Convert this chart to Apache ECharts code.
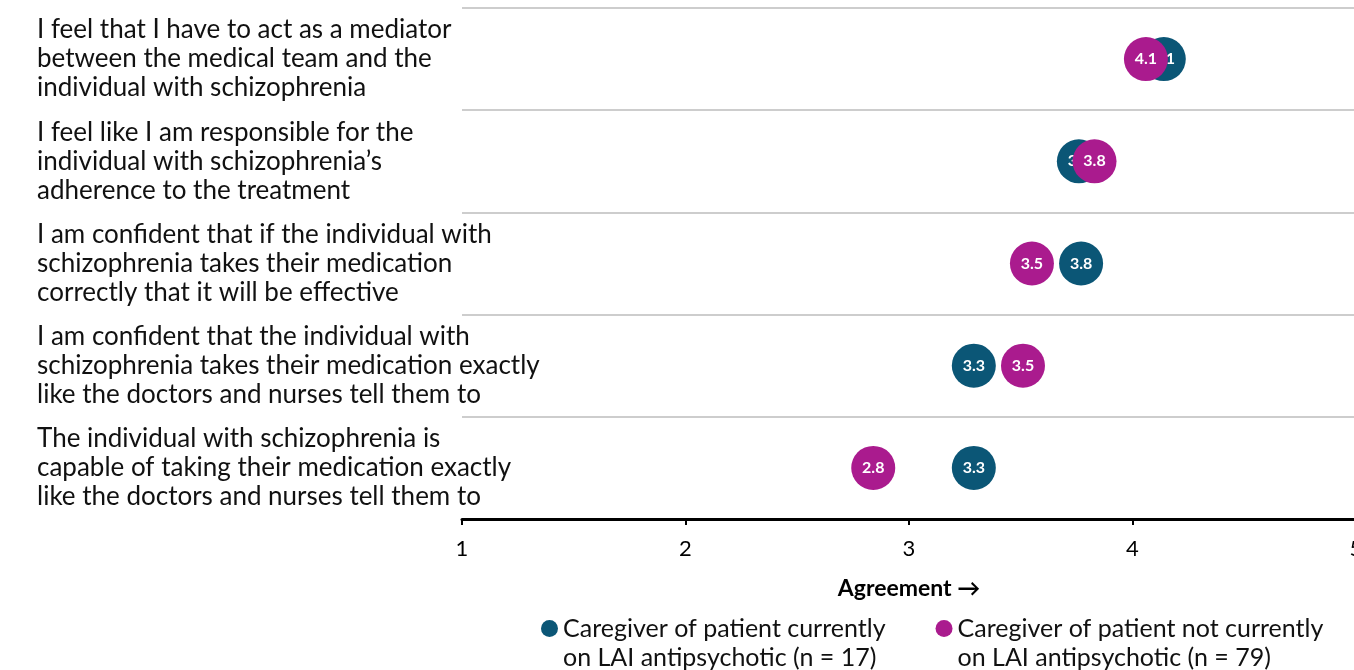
<!DOCTYPE html>
<html>
<head>
<meta charset="utf-8">
<script src="https://cdn.jsdelivr.net/npm/echarts@6/dist/echarts.min.js"></script>
<style>html,body{margin:0;padding:0;background:#fff;overflow:hidden;}#c{width:1354px;height:670px;}</style>
</head>
<body>
<div id="c"></div>
<script>
const categories = [
  "I feel that I have to act as a mediator\nbetween the medical team and the\nindividual with schizophrenia",
  "I feel like I am responsible for the\nindividual with schizophrenia\u2019s\nadherence to the treatment",
  "I am confident that if the individual with\nschizophrenia takes their medication\ncorrectly that it will be effective",
  "I am confident that the individual with\nschizophrenia takes their medication exactly\nlike the doctors and nurses tell them to",
  "The individual with schizophrenia is\ncapable of taking their medication exactly\nlike the doctors and nurses tell them to"
];
const currentLAI = [4.14, 3.76, 3.77, 3.29, 3.29];
const notCurrentLAI = [4.06, 3.83, 3.55, 3.51, 2.84];
const seriesNames = [
  "Caregiver of patient currently\non LAI antipsychotic (n = 17)",
  "Caregiver of patient not currently\non LAI antipsychotic (n = 79)"
];
const xTicks = [1, 2, 3, 4, 5];
const colors = ["#0b5676", "#aa1b8e"];

const FONT = "Lato, sans-serif";
function mk(i, vals) {
  return {
    name: seriesNames[i],
    type: 'scatter',
    z: 2 + i * 2,
    symbol: 'circle',
    symbolSize: 44,
    itemStyle: { color: colors[i], opacity: 1 },
    label: {
      show: true, position: 'inside', color: '#fff', fontWeight: 'bold',
      fontSize: 16, fontFamily: FONT,
      formatter: p => p.value[0].toFixed(1)
    },
    labelLayout: { hideOverlap: false },
    emphasis: { disabled: true },
    data: vals.map((v, k) => [v, categories[k]])
  };
}
const chart = echarts.init(document.getElementById('c'), null, { renderer: 'canvas' });
chart.setOption({
  animation: false,
  textStyle: { fontFamily: FONT },
  grid: { left: 462, right: -2, top: 8, bottom: 151, containLabel: false, outerBoundsMode: 'none' },
  xAxis: {
    type: 'value', min: xTicks[0], max: xTicks[xTicks.length - 1], interval: 1,
    axisLine: { show: true, lineStyle: { color: '#000', width: 3 } },
    axisTick: { show: true, length: 6, lineStyle: { color: '#000', width: 2 } },
    axisLabel: { color: '#000', fontSize: 22, margin: 19, fontFamily: FONT },
    splitLine: { show: false },
    name: 'Agreement \u2192', nameLocation: 'middle', nameGap: 58,
    nameTextStyle: { color: '#000', fontWeight: 'bold', fontSize: 23, fontFamily: FONT }
  },
  yAxis: {
    type: 'category', data: categories, inverse: true, boundaryGap: true,
    axisLine: { show: false }, axisTick: { show: false },
    splitLine: { show: true, lineStyle: { color: '#bdbdbd', width: 1.5 } },
    axisLabel: { align: 'left', margin: 425, color: '#111', fontSize: 26, lineHeight: 29, fontFamily: FONT }
  },
  legend: {
    left: 541, top: 585, padding: 0, itemGap: 50,
    itemWidth: 17, itemHeight: 17, icon: 'circle',
    data: seriesNames,
    formatter: n => ' \n' + n,
    textStyle: { color: '#111', fontSize: 25, lineHeight: 29, fontFamily: FONT }
  },
  series: [mk(0, currentLAI), mk(1, notCurrentLAI)]
});
</script>
</body>
</html>
